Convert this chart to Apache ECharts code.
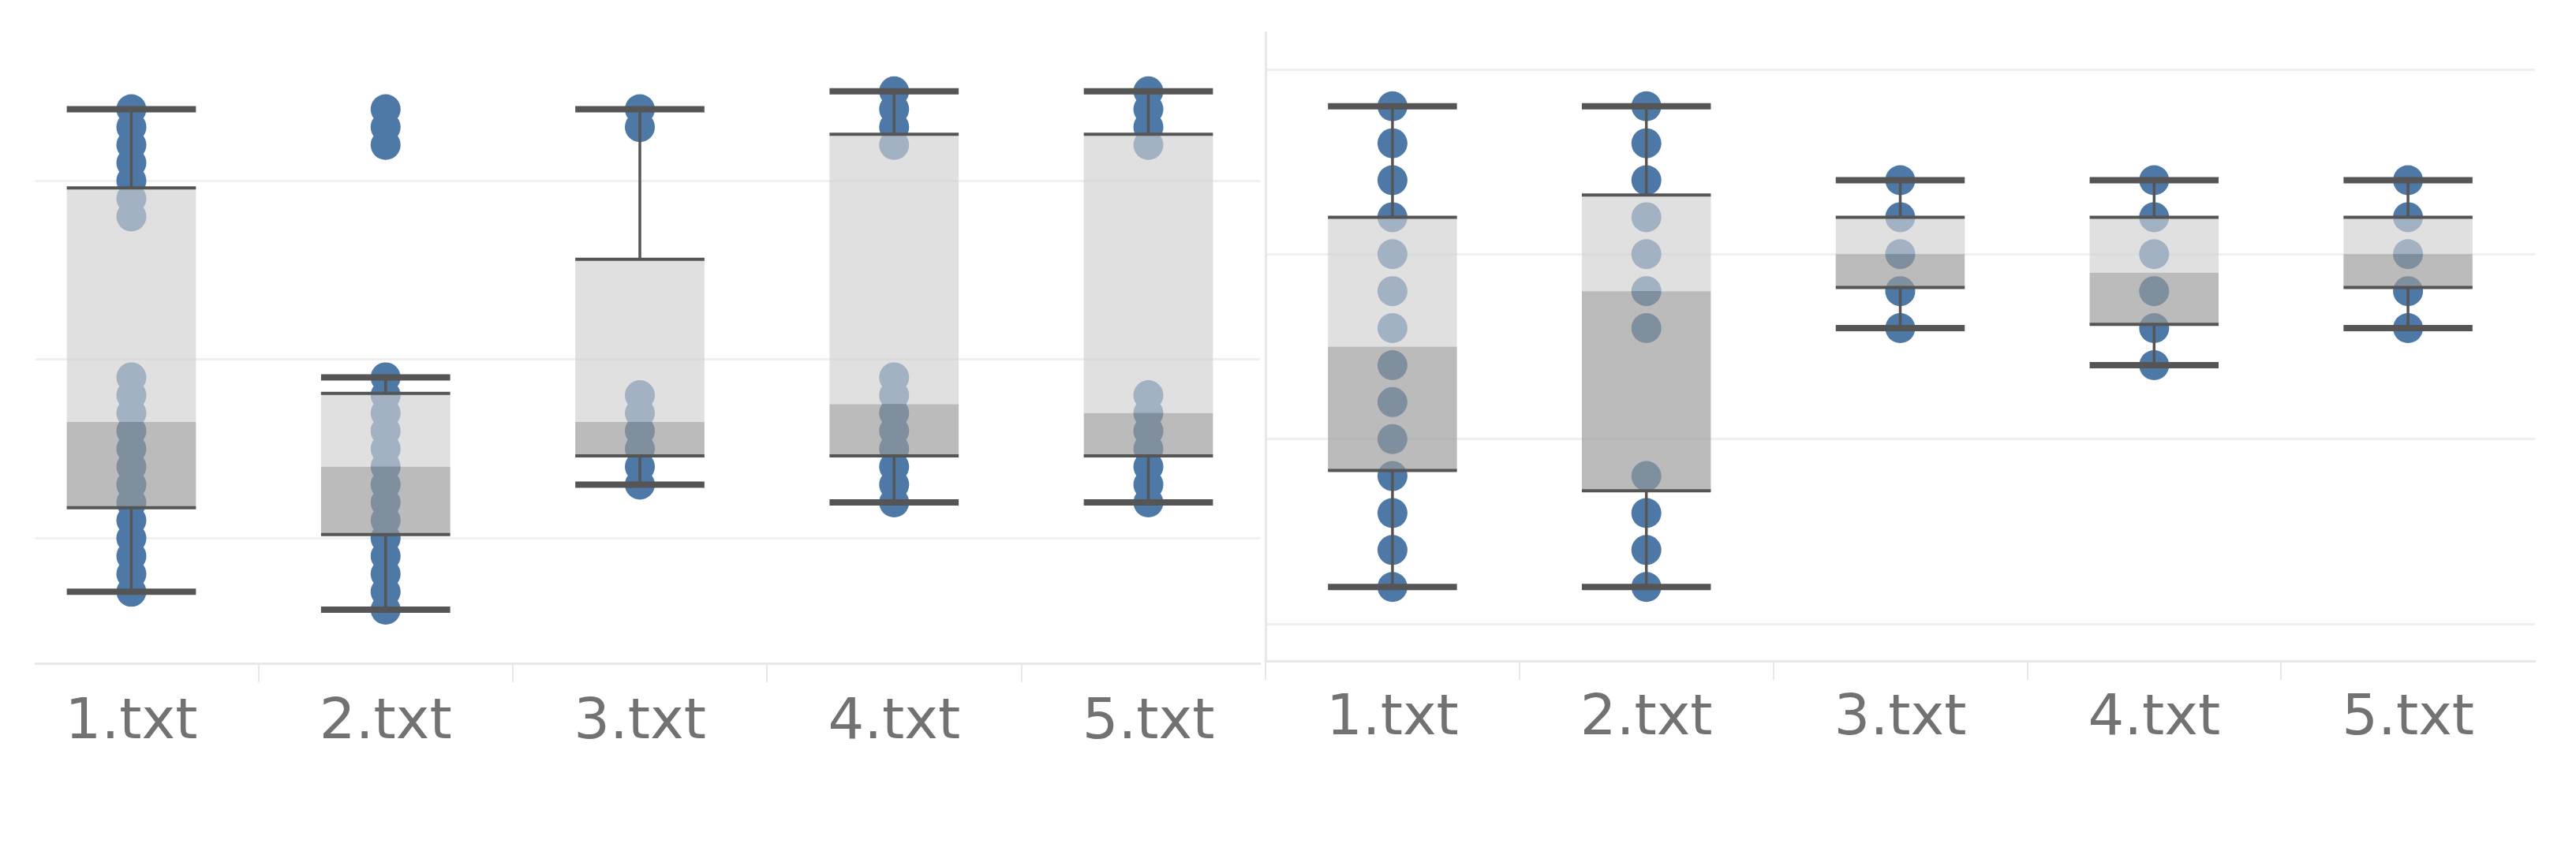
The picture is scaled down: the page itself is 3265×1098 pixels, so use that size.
<!DOCTYPE html>
<html><head><meta charset="utf-8">
<script src="https://cdn.jsdelivr.net/npm/echarts@6/dist/echarts.min.js"></script>
<style>html,body{margin:0;padding:0;background:#fff}#c{width:3265px;height:1098px}</style>
</head><body><div id="c"></div><script>
const categories = ['1.txt', '2.txt', '3.txt', '4.txt', '5.txt'];

// Left panel: individual points per file
const leftDots1 = [7, 8, 9, 10, 11, 12, 13, 14, 15, 16, 17, 18, 19, 28, 29, 30, 31, 32, 33, 34];
const leftDots2 = [6, 7, 8, 9, 10, 11, 12, 13, 14, 15, 16, 17, 18, 19, 32, 33, 34];
const leftDots3 = [13, 14, 15, 16, 17, 18, 33, 34];
const leftDots4 = [12, 13, 14, 15, 16, 17, 18, 19, 32, 33, 34, 35];
const leftDots5 = [12, 13, 14, 15, 16, 17, 18, 32, 33, 34, 35];
// Left panel box statistics
const leftLow    = [7, 6, 13, 12, 12];
const leftQ1     = [11.7, 10.2, 14.6, 14.6, 14.6];
const leftMedian = [16.5, 14, 16.5, 17.5, 17];
const leftQ3     = [29.6, 18.1, 25.6, 32.6, 32.6];
const leftHigh   = [34, 19, 34, 35, 35];

// Right panel: individual points per file
const rightDots1 = [1, 2, 3, 4, 5, 6, 7, 8, 9, 10, 11, 12, 13, 14];
const rightDots2 = [1, 2, 3, 4, 8, 9, 10, 11, 12, 13, 14];
const rightDots3 = [8, 9, 10, 11, 12];
const rightDots4 = [7, 8, 9, 10, 11, 12];
const rightDots5 = [8, 9, 10, 11, 12];
// Right panel box statistics
const rightLow    = [1, 1, 8, 7, 8];
const rightQ1     = [4.15, 3.6, 9.1, 8.1, 9.1];
const rightMedian = [7.5, 9, 10, 9.5, 10];
const rightQ3     = [11, 11.6, 11, 11, 11];
const rightHigh   = [14, 14, 12, 12, 12];

const leftDots = [leftDots1, leftDots2, leftDots3, leftDots4, leftDots5];
const rightDots = [rightDots1, rightDots2, rightDots3, rightDots4, rightDots5];

function dotData(groups) {
  const out = [];
  groups.forEach((g, i) => g.forEach(v => out.push([i, v])));
  return out;
}
function boxData(lo, q1, md, q3, hi) {
  return categories.map((c, i) => [i, lo[i], q1[i], md[i], q3[i], hi[i]]);
}

const LINE = '#555555';
function boxRender(params, api) {
  const x = api.value(0);
  const lo = api.coord([x, api.value(1)]);
  const q1 = api.coord([x, api.value(2)]);
  const md = api.coord([x, api.value(3)]);
  const q3 = api.coord([x, api.value(4)]);
  const hi = api.coord([x, api.value(5)]);
  const half = api.size([1, 0])[0] * 0.254;
  const cx = lo[0];
  return {
    type: 'group',
    children: [
      { type: 'rect', shape: { x: cx - half, y: q3[1], width: 2 * half, height: md[1] - q3[1] }, style: { fill: 'rgba(208,208,208,0.66)' } },
      { type: 'rect', shape: { x: cx - half, y: md[1], width: 2 * half, height: q1[1] - md[1] }, style: { fill: 'rgba(153,153,153,0.67)' } },
      { type: 'line', shape: { x1: cx, y1: hi[1], x2: cx, y2: q3[1] }, style: { stroke: LINE, lineWidth: 3.5 } },
      { type: 'line', shape: { x1: cx, y1: q1[1], x2: cx, y2: lo[1] }, style: { stroke: LINE, lineWidth: 3.5 } },
      { type: 'line', shape: { x1: cx - half, y1: q3[1], x2: cx + half, y2: q3[1] }, style: { stroke: LINE, lineWidth: 4 } },
      { type: 'line', shape: { x1: cx - half, y1: q1[1], x2: cx + half, y2: q1[1] }, style: { stroke: LINE, lineWidth: 4 } },
      { type: 'line', shape: { x1: cx - half, y1: hi[1], x2: cx + half, y2: hi[1] }, style: { stroke: LINE, lineWidth: 8 } },
      { type: 'line', shape: { x1: cx - half, y1: lo[1], x2: cx + half, y2: lo[1] }, style: { stroke: LINE, lineWidth: 8 } }
    ]
  };
}

const GRIDC = '#efefef';
const AXISC = '#e8e8e8';
function xAxisCfg(gridIndex, min, max, tickVals, margin) {
  return {
    gridIndex, type: 'value', min, max,
    splitLine: { show: false },
    axisLine: { show: true, onZero: false, lineStyle: { color: AXISC, width: 3 } },
    axisTick: { show: true, customValues: tickVals, length: 24, lineStyle: { color: AXISC, width: 2 } },
    axisLabel: {
      customValues: [0, 1, 2, 3, 4],
      formatter: v => categories[Math.round(v)] || '',
      fontSize: 72, fontFamily: 'DejaVu Sans', color: '#727272', margin
    }
  };
}
function yAxisCfg(gridIndex, min, max, showLine) {
  return {
    gridIndex, type: 'value', min, max, splitNumber: 4,
    axisLabel: { show: false },
    axisTick: { show: false },
    axisLine: { show: showLine, onZero: false, lineStyle: { color: AXISC, width: 3 } },
    splitLine: { show: true, showMinLine: false, showMaxLine: false, lineStyle: { color: GRIDC, width: 3 } }
  };
}

const chart = echarts.init(document.getElementById('c'), null, { renderer: 'canvas' });
chart.setOption({
  backgroundColor: '#ffffff',
  animation: false,
  grid: [
    { left: 45, top: 2.5, width: 1552, height: 838.5 },
    { left: 1604, top: 41, width: 1609, height: 797 }
  ],
  xAxis: [
    xAxisCfg(0, -0.377, 4.439, [0.5, 1.5, 2.5, 3.5], 40),
    xAxisCfg(1, -0.5, 4.5, [-0.5, 0.5, 1.5, 2.5, 3.5], 38)
  ],
  yAxis: [
    yAxisCfg(0, 3, 40, false),
    yAxisCfg(1, -1, 16, true)
  ],
  series: [
    { type: 'scatter', xAxisIndex: 0, yAxisIndex: 0, data: dotData(leftDots), symbolSize: 38, itemStyle: { color: '#4e79a7', opacity: 1 }, clip: false, z: 2 },
    { type: 'custom', xAxisIndex: 0, yAxisIndex: 0, data: boxData(leftLow, leftQ1, leftMedian, leftQ3, leftHigh), renderItem: boxRender, encode: { x: 0, y: [1, 2, 3, 4, 5] }, clip: false, z: 3 },
    { type: 'scatter', xAxisIndex: 1, yAxisIndex: 1, data: dotData(rightDots), symbolSize: 38, itemStyle: { color: '#4e79a7', opacity: 1 }, clip: false, z: 2 },
    { type: 'custom', xAxisIndex: 1, yAxisIndex: 1, data: boxData(rightLow, rightQ1, rightMedian, rightQ3, rightHigh), renderItem: boxRender, encode: { x: 0, y: [1, 2, 3, 4, 5] }, clip: false, z: 3 }
  ]
});
</script></body></html>
